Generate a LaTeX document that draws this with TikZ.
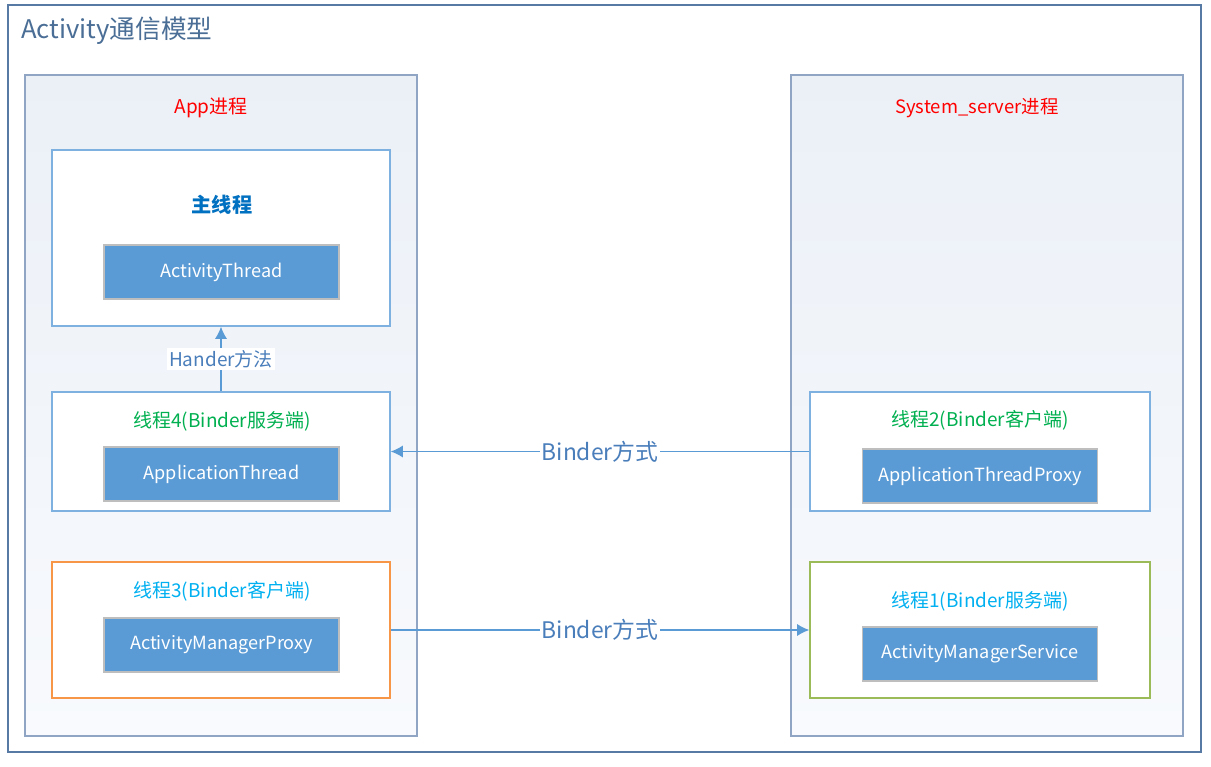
\documentclass[tikz,border=0pt]{standalone}
\usepackage{fontspec}
\setmainfont{Noto Sans CJK SC}
\usetikzlibrary{positioning,arrows.meta}
\definecolor{frameb}{RGB}{86,122,164}
\definecolor{titleb}{RGB}{74,110,150}
\definecolor{panelb}{RGB}{143,165,195}
\definecolor{panelt}{RGB}{235,240,247}
\definecolor{panelw}{RGB}{248,250,253}
\definecolor{threadb}{RGB}{126,177,224}
\definecolor{blockf}{RGB}{91,155,213}
\definecolor{blockb}{RGB}{190,190,190}
\definecolor{mainb}{RGB}{0,112,192}
\definecolor{tgreen}{RGB}{0,176,80}
\definecolor{tcyan}{RGB}{0,176,240}
\definecolor{torange}{RGB}{247,150,70}
\definecolor{tlime}{RGB}{155,187,89}
\definecolor{connb}{RGB}{91,155,213}
\definecolor{connt}{RGB}{74,126,187}

\begin{document}
\begin{tikzpicture}[x=0.02cm, y=-0.02cm,
	Frame/.style={draw=frameb, line width=1pt, fill=white, minimum width=23.86cm, minimum height=14.94cm, inner sep=0pt},
	Panel/.style={draw=panelb, line width=0.7pt, top color=panelt, bottom color=panelw, minimum width=7.84cm, minimum height=13.22cm, inner sep=0pt},
	Thread/.style={draw=threadb, line width=0.7pt, fill=white, minimum width=6.76cm, inner sep=0pt},
	Block/.style={draw=blockb, line width=0.9pt, fill=blockf, text=white, minimum width=4.7cm, minimum height=1.08cm, font=\fontsize{10.3}{12}\selectfont, inner sep=0pt},
	Caption/.style={font=\fontsize{10.8}{13}\selectfont, inner sep=1pt},
	Conn/.style={draw=connb, line width=1pt, -{Latex[length=7pt,width=7pt]}},
	ConnLabel/.style={fill=white, text=connt, inner sep=1pt}]
	\useasboundingbox (0,0) rectangle (1211,767);
	\node[Frame] (outer) at (604.5,378.5) {};
	\node[anchor=west, text=titleb, font=\fontsize{14.6}{17}\selectfont, inner sep=0pt] (title) at (21,31) {Activity通信模型};
	\node[Panel] (appProc) at (221,405.5) {};
	\node[Panel] (sysProc) at (987,405.5) {};
	\node[Caption, text=red] (appLabel) at (211,108) {App进程};
	\node[Caption, text=red, font=\fontsize{10.5}{13}\selectfont] (sysLabel) at (977,108) {System\_server进程};
	\node[Thread, minimum height=3.52cm] (mainThread) at (221,238) {};
	\node[Caption, text=mainb, font=\fontsize{11.5}{13}\selectfont\bfseries] (mainLabel) at (222,205) {主线程};
	\node[Block] (activityThread) at (221.5,272) {ActivityThread};
	\node[Thread, minimum height=2.38cm] (thread4) at (221,451.5) {};
	\node[Caption, text=tgreen] (thread4Label) at (222,421) {线程4(Binder服务端)};
	\node[Block] (appThread) at (221.5,474) {ApplicationThread};
	\node[Thread, draw=torange, minimum height=2.72cm] (thread3) at (221,630) {};
	\node[Caption, text=tcyan] (thread3Label) at (222,591) {线程3(Binder客户端)};
	\node[Block] (amProxy) at (221.5,645) {ActivityManagerProxy};
	\node[Thread, minimum width=6.8cm, minimum height=2.38cm] (thread2) at (980,451.5) {};
	\node[Caption, text=tgreen] (thread2Label) at (980,420) {线程2(Binder客户端)};
	\node[Block] (appThreadProxy) at (980,476) {ApplicationThreadProxy};
	\node[Thread, draw=tlime, minimum width=6.8cm, minimum height=2.72cm] (thread1) at (980,630) {};
	\node[Caption, text=tcyan] (thread1Label) at (980,601) {线程1(Binder服务端)};
	\node[Block] (amService) at (980,654) {ActivityManagerService};
	\draw[Conn] (thread4) -- node[ConnLabel, font=\fontsize{10.8}{13}\selectfont] (handerLabel) {Hander方法} (mainThread);
	\draw[Conn] (thread2) -- node[ConnLabel, font=\fontsize{13}{15}\selectfont] (binderLabel1) {Binder方式} (thread4);
	\draw[Conn] (thread3) -- node[ConnLabel, font=\fontsize{13}{15}\selectfont] (binderLabel2) {Binder方式} (thread1);
\end{tikzpicture}
\end{document}
